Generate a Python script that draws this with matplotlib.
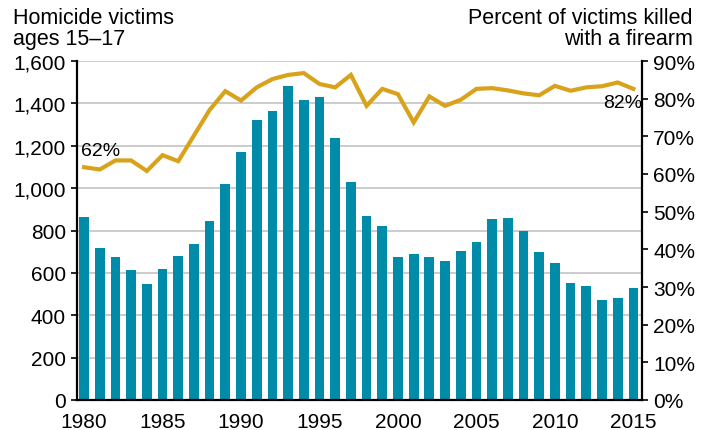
import matplotlib
matplotlib.use("Agg")
import matplotlib.pyplot as plt

plt.rcParams['font.family'] = ['Liberation Sans', 'DejaVu Sans']

years = list(range(1980, 2016))
victims = [865, 717, 675, 613, 548, 618, 679, 736, 845, 1019,
           1170, 1321, 1364, 1482, 1416, 1430, 1236, 1029, 868, 821,
           675, 689, 675, 656, 703, 746, 854, 859, 798, 698,
           646, 552, 538, 472, 481, 528]
firearm_pct = [61.8, 61.2, 63.6, 63.6, 60.8, 65.0, 63.4, 70.2, 77.0, 82.0,
               79.5, 83.0, 85.2, 86.3, 86.8, 83.9, 83.0, 86.3, 78.1, 82.6,
               81.2, 73.7, 80.6, 78.1, 79.7, 82.6, 82.8, 82.2, 81.4, 80.9,
               83.4, 82.1, 83.0, 83.3, 84.3, 82.6]
left_ticks = [0, 200, 400, 600, 800, 1000, 1200, 1400, 1600]
right_ticks = [0, 10, 20, 30, 40, 50, 60, 70, 80, 90]
x_ticks = [1980, 1985, 1990, 1995, 2000, 2005, 2010, 2015]

BAR = '#008ca8'
LINE = '#d9a21b'

fig = plt.figure(figsize=(7.12, 4.31), dpi=100)
ax = fig.add_axes([77/712, 1-401/431, (642-77)/712, (401-62)/431])
ax.bar(years, victims, width=0.62, color=BAR, zorder=2)
ax.set_xlim(1979.55, 2015.55)
ax.set_ylim(0, 1600)
ax.set_yticks(left_ticks)
ax.set_yticklabels([f"{v:,}" for v in left_ticks])
ax.set_xticks(x_ticks)
ax.set_xticklabels([str(x) for x in x_ticks])
ax.grid(axis='y', color='#c4c4c4', linewidth=1.2, zorder=0)
ax.set_axisbelow(True)
ax.spines['top'].set_visible(False)
ax.spines['right'].set_visible(False)
for s in ['left', 'bottom']:
    ax.spines[s].set_linewidth(1.6)
    ax.spines[s].set_color('black')
ax.tick_params(axis='y', length=4, width=1.2, labelsize=15, pad=4)
ax.tick_params(axis='x', length=0, labelsize=15, pad=9)

ax2 = ax.twinx()
ax2.plot(years, firearm_pct, color=LINE, linewidth=3, solid_joinstyle='miter', zorder=3)
ax2.set_ylim(0, 90)
ax2.set_yticks(right_ticks)
ax2.set_yticklabels([f"{v}%" for v in right_ticks])
ax2.spines['top'].set_visible(False)
ax2.spines['left'].set_visible(False)
ax2.spines['bottom'].set_visible(False)
ax2.spines['right'].set_linewidth(1.6)
ax2.tick_params(axis='y', length=4, width=1.2, labelsize=15, pad=4)

ax2.text(years[0] - 0.2, 66.2, f"{firearm_pct[0]:.0f}%", fontsize=14, ha='left', va='center')
ax2.text(2015.55, 79.1, "82%", fontsize=14, ha='right', va='center')

fig.text(13/712, 1-8/431, "Homicide victims\nages 15–17", fontsize=15.5, ha='left', va='top', linespacing=1.0)
fig.text(693/712, 1-8/431, "Percent of victims killed\nwith a firearm", fontsize=15.5, ha='right', va='top', linespacing=1.0, multialignment='right')

fig.savefig("out.png", dpi=100)
